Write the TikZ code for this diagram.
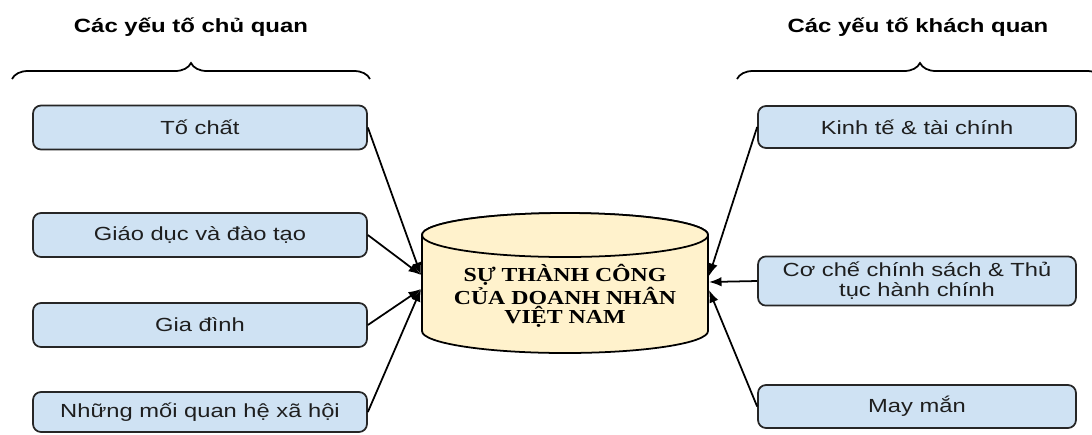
\documentclass[tikz,border=0pt]{standalone}
\usepackage{fontspec}
\setmainfont{Liberation Sans}[FakeStretch=1.25]
\newfontfamily\capfont{Liberation Serif}[FakeStretch=1.2]
\usetikzlibrary{arrows.meta,decorations.pathreplacing}
\definecolor{boxblue}{RGB}{207,226,243}
\definecolor{cylyellow}{RGB}{255,242,204}
\definecolor{txtgray}{RGB}{30,30,30}
\tikzset{
  factor/.style={draw=black!85,fill=boxblue,rounded corners=0.16cm,line width=1pt,
    minimum width=6.68cm,minimum height=0.88cm,align=center,text=txtgray,
    font=\fontsize{10.8}{11.4}\selectfont},
  heading/.style={font=\fontsize{10.9}{12}\selectfont\bfseries},
  bracket/.style={decorate,decoration={brace,amplitude=0.32cm},line width=1pt},
  link/.style={-{Latex[length=0.25cm,width=0.19cm]},line width=1pt},
  drum/.style={draw=black,fill=cylyellow,line width=1pt}
}
\begin{document}
\begin{tikzpicture}[x=0.02cm,y=-0.02cm]
\useasboundingbox (0,0) rectangle (1092,434);
\clip (0,0) rectangle (1092,434);
% headings and braces
\node[heading] (subj) at (191,27) {Các yếu tố chủ quan};
\node[heading] (obj) at (918,27) {Các yếu tố khách quan};
\draw[bracket] (12,79) -- (370,79);
\draw[bracket] (737,79) -- (1103,79);
% central cylinder
\path[drum] (422,235) -- (422,331) arc[start angle=180,end angle=0,x radius=143,y radius=22]
  -- (708,235) arc[start angle=0,end angle=-180,x radius=143,y radius=22] -- cycle;
\path[drum] (565,235) ellipse[x radius=143,y radius=22];
\node[align=center,font=\capfont\fontsize{11.3}{11}\selectfont\bfseries] (goal) at (565,296)
  {SỰ THÀNH CÔNG\\CỦA DOANH NHÂN\\VIỆT NAM};
% left factors
\node[factor] (tochat) at (200,127.5) {Tố chất};
\node[factor] (giaoduc) at (200,235) {Giáo dục và đào tạo};
\node[factor] (giadinh) at (200,325) {Gia đình};
\node[factor,minimum height=0.8cm] (quanhe) at (200,412) {Những mối quan hệ xã hội};
% right factors
\node[factor,minimum width=6.36cm,minimum height=0.84cm] (kinhte) at (917,127) {Kinh tế \& tài chính};
\node[factor,minimum width=6.36cm] (coche) at (917,281) {Cơ chế chính sách \& Thủ\\tục hành chính};
\node[factor,minimum width=6.36cm,minimum height=0.86cm] (mayman) at (917,406.5) {May mắn};
% arrow ends on the cylinder
\coordinate (inA) at (421,275);
\coordinate (inB) at (421,289);
\coordinate (inC) at (709,276);
\coordinate (inD) at (709,282);
\coordinate (inE) at (709,290);
\draw[link] (tochat.east) -- (inA);
\draw[link] (giaoduc.east) -- (inA);
\draw[link] (giadinh.east) -- (inB);
\draw[link] (quanhe.east) -- (inB);
\draw[link] (kinhte.west) -- (inC);
\draw[link] (coche.west) -- (inD);
\draw[link] (mayman.west) -- (inE);
\end{tikzpicture}
\end{document}
